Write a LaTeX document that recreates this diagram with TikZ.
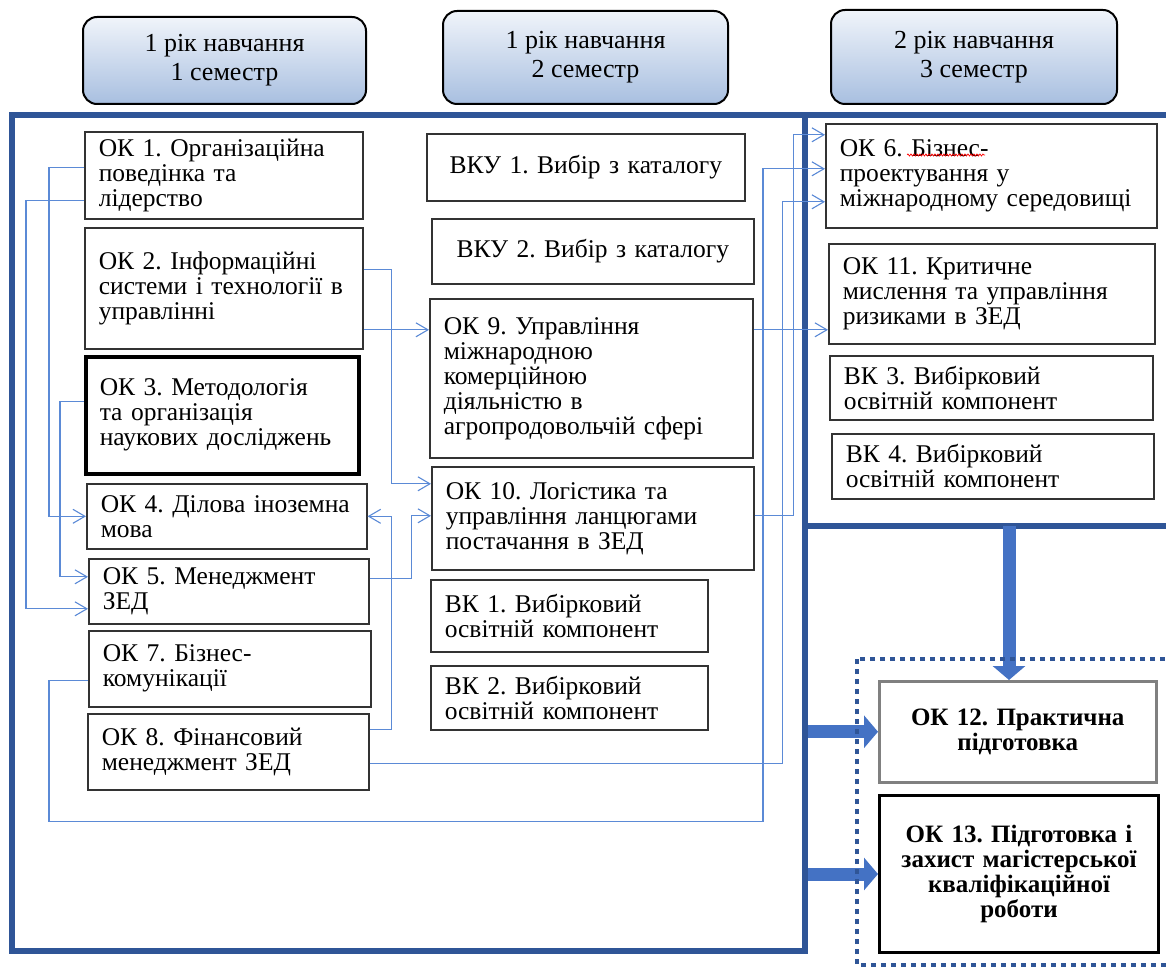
\documentclass[tikz,border=0pt]{standalone}
\usepackage{fontspec}
\setmainfont{Liberation Serif}
\usetikzlibrary{arrows.meta,decorations.pathmorphing}
\definecolor{panelblue}{HTML}{2F5597}
\definecolor{linkblue}{HTML}{5B8AD6}
\definecolor{arrowblue}{HTML}{4472C4}
\definecolor{headtop}{HTML}{F0F4FA}
\definecolor{headbot}{HTML}{A8BFE0}

\begin{document}
\frenchspacing
\begin{tikzpicture}[x=1pt, y=-1pt]

\tikzset{
    semhead/.style={draw, line width=2pt, rounded corners=14pt, top color=headtop, bottom color=headbot, align=center, font=\fontsize{26}{29}\selectfont},
    okbox/.style={draw=black!80, line width=1.6pt, anchor=north west, align=left, inner xsep=14pt, inner ysep=0pt, font=\fontsize{25.5}{25}\selectfont},
    boldbox/.style={okbox, align=center, font=\fontsize{25}{25}\selectfont\bfseries},
    conn/.style={draw=linkblue, line width=1.1pt, -{Straight Barb[length=12pt, width=14pt]}},
    panel/.style={draw=panelblue, line width=6pt},
    fat arrow/.style={draw=arrowblue, line width=13pt, -{Triangle[length=14pt, width=32pt]}}
}
\useasboundingbox (0,0) rectangle (1166,968);

\node[semhead, minimum width=283pt, minimum height=87pt] (sem1) at (224.5,60.5) {1 рік навчання\\1 семестр};
\node[semhead, minimum width=285pt, minimum height=93pt] (sem2) at (585.5,57.5) {1 рік навчання\\2 семестр};
\node[semhead, minimum width=286pt, minimum height=94pt] (sem3) at (974,57) {2 рік навчання\\3 семестр};

\draw[panel] (12,115) rectangle (805,951);
\draw[panel] (805,115) rectangle (1175,526);
\coordinate (lpe) at (808,115);
\coordinate (drop) at (1009,526);

\node[okbox, text width=250pt, minimum height=87pt] (ok1) at (84,131) {ОК 1. Організаційна\\поведінка та\\лідерство};
\node[okbox, text width=250pt, minimum height=121pt] (ok2) at (84,227) {ОК 2. Інформаційні\\системи і технології в\\управлінні};
\node[okbox, draw=black, line width=3.5pt, text width=245pt, minimum height=117pt] (ok3) at (84,355) {ОК 3. Методологія\\та організація\\наукових досліджень};
\node[okbox, text width=252pt, minimum height=65pt] (ok4) at (86,483) {ОК 4. Ділова іноземна\\мова};
\node[okbox, text width=252pt, minimum height=65pt] (ok5) at (88,558) {ОК 5. Менеджмент\\ЗЕД};
\node[okbox, text width=254pt, minimum height=76pt] (ok7) at (88,630) {ОК 7. Бізнес-\\комунікації};
\node[okbox, text width=253pt, minimum height=76pt] (ok8) at (87,713) {ОК 8. Фінансовий\\менеджмент ЗЕД};

\node[okbox, align=center, text width=290pt, minimum height=67pt] (vku1) at (426,133) {ВКУ 1. Вибір з каталогу};
\node[okbox, align=center, text width=294pt, minimum height=65pt] (vku2) at (431,218) {ВКУ 2. Вибір з каталогу};
\node[okbox, text width=295pt, minimum height=159pt] (ok9) at (429,298) {ОК 9. Управління\\міжнародною\\комерційною\\діяльністю в\\агропродовольчій сфері};
\node[okbox, text width=294pt, minimum height=103pt] (ok10) at (431,466) {ОК 10. Логістика та\\управління ланцюгами\\постачання в ЗЕД};
\node[okbox, text width=249pt, minimum height=72pt] (vk1) at (430,579) {ВК 1. Вибірковий\\освітній компонент};
\node[okbox, text width=249pt, minimum height=64pt] (vk2) at (430,665) {ВК 2. Вибірковий\\освітній компонент};

\node[okbox, text width=303pt, minimum height=104pt] (ok6) at (825,123) {ОК 6. Бізнес-\\проектування у\\міжнародному середовищі};
\node[okbox, text width=298pt, minimum height=100pt] (ok11) at (828,243) {ОК 11. Критичне\\мислення та управління\\ризиками в ЗЕД};
\node[okbox, text width=295pt, minimum height=64pt] (vk3) at (829,355) {ВК 3. Вибірковий\\освітній компонент};
\node[okbox, text width=294pt, minimum height=65pt] (vk4) at (831,433) {ВК 4. Вибірковий\\освітній компонент};

\node[boldbox, draw=gray, line width=2.5pt, text width=249pt, minimum height=101pt] (ok12) at (878,680) {ОК 12. Практична\\підготовка};
\node[boldbox, draw=black, line width=3pt, text width=251pt, minimum height=157pt] (ok13) at (878,794) {ОК 13. Підготовка і\\захист магістерської\\кваліфікаційної\\роботи};

\draw[red, line width=0.7pt, decorate, decoration={snake, amplitude=1pt, segment length=3pt}] ([shift={(82pt,-32pt)}]ok6.north west) -- ++(78,0);

\draw[conn] ([yshift=7.5pt]ok1.west) -- ++(-35,0) |- (ok4.west);
\draw[conn] ([yshift=-25.5pt]ok1.west) -- ++(-58,0) |- ([yshift=-17.5pt]ok5.west);
\draw[conn] ([yshift=13.5pt]ok3.west) -- ++(-24,0) |- ([yshift=14.5pt]ok5.west);
\draw[conn] ([yshift=18.5pt]ok2.east) -- ++(28,0) |- ([yshift=34.5pt]ok10.west);
\draw[conn] ([yshift=-41.5pt]ok2.east) -- ([yshift=48.5pt]ok9.west);
\draw[conn] ([yshift=22pt]ok8.east) -- ++(22,0) |- (ok4.east);
\draw[conn] ([yshift=12.5pt]ok5.east) -- ++(42,0) |- ([yshift=2.5pt]ok10.west);
\draw[conn] ([yshift=2.5pt]ok10.east) -- ++(39,0) |- ([yshift=41pt]ok6.west);
\draw[conn] ([yshift=-12pt]ok7.west) -- ++(-39,0) -- ++(0,141) -- ++(714,0) |- ([yshift=7pt]ok6.west);
\draw[conn] ([yshift=-12pt]ok8.east) -- ++(413,0) |- ([yshift=-26pt]ok6.west);
\draw[conn] ([yshift=48.5pt]ok9.east) -- ([yshift=-36pt]ok11.west);

\draw[fat arrow] (drop) -- (drop |- ok12.north);
\draw[fat arrow] (ok12.west -| lpe) -- (ok12.west);
\draw[fat arrow] (ok13.west -| lpe) -- (ok13.west);

\draw[panelblue, line width=4.5pt, dash pattern=on 5pt off 5pt] (857,659) rectangle (1180,965);
\end{tikzpicture}
\end{document}
